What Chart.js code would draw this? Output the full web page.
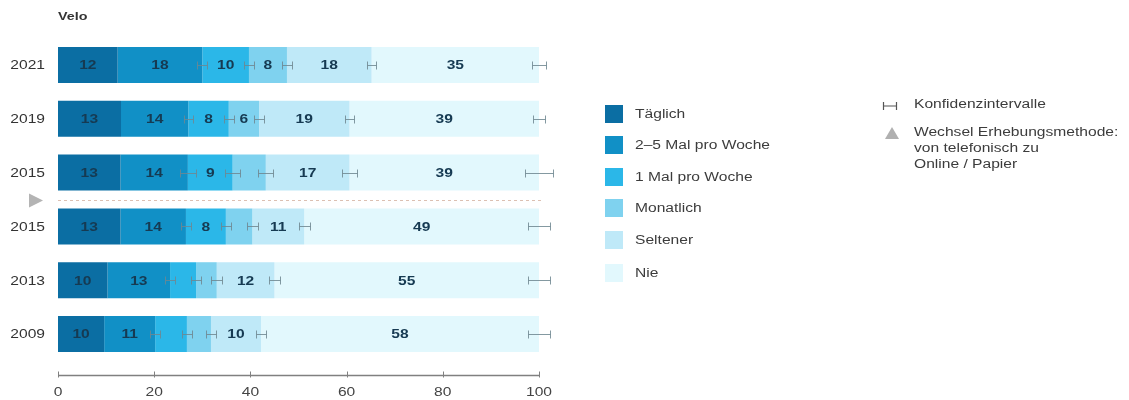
<!DOCTYPE html>
<html>
<head>
<meta charset="utf-8">
<script src="https://cdn.jsdelivr.net/npm/chart.js@4/dist/chart.umd.min.js"></script>
<style>
  html, body { margin: 0; padding: 0; background: #fff; }
  #wrap { position: relative; width: 1129px; height: 400px; overflow: hidden; font-family: "Liberation Sans", Arial, sans-serif; }
  canvas { position: absolute; left: 0; top: 0; }
  .title { position: absolute; left: 58px; top: 10px; font-size: 11px; font-weight: bold; color: #333; transform: scaleX(1.3); transform-origin: 0 0; }
  .leg { position: absolute; font-size: 12px; color: #3c3c3c; line-height: 16px; white-space: nowrap; transform: scaleX(1.3); transform-origin: 0 0; }
  .sw { position: absolute; width: 18px; height: 18px; }
</style>
</head>
<body>
<div id="wrap">
  <canvas id="c" width="1129" height="400"></canvas>
  <div class="title">Velo</div>
  <div id="legend"></div>
</div>
<script>
// ---- data ----
const categories = ['2021', '2019', '2015', '2015', '2013', '2009'];
const seriesNames = ['Täglich', '2–5 Mal pro Woche', '1 Mal pro Woche', 'Monatlich', 'Seltener', 'Nie'];
const taeglich  = [12.4, 13.1, 13.0, 13.0, 10.3, 9.6];
const mal2bis5  = [17.6, 14.0, 14.0, 13.6, 13.0, 10.6];
const mal1      = [9.7, 8.4, 9.3, 8.3, 5.4, 6.6];
const monatlich = [7.9, 6.3, 6.9, 5.5, 4.3, 5.0];
const seltener  = [17.6, 18.8, 17.4, 10.8, 12.0, 10.4];
const nie       = [34.8, 39.4, 39.4, 48.8, 55.0, 57.8];
// printed labels (null = not printed)
const lblTaeglich  = [12, 13, 13, 13, 10, 10];
const lbl2bis5     = [18, 14, 14, 14, 13, 11];
const lbl1         = [10, 8, 9, 8, null, null];
const lblMonatlich = [8, 6, null, null, null, null];
const lblSeltener  = [18, 19, 17, 11, 12, 10];
const lblNie       = [35, 39, 39, 49, 55, 58];
// confidence interval half-widths (percentage points)
const ciInner = [1.0, 1.0, 1.6, 1.1, 1.1, 1.1];
const ciEnd   = [1.4, 1.3, 3.0, 2.3, 2.2, 2.2];
const xTicks = [0, 20, 40, 60, 80, 100];
const methodChangeAfter = 2; // index after which the survey method changed
const legendNotes = ['Konfidenzintervalle', 'Wechsel Erhebungsmethode:', 'von telefonisch zu', 'Online / Papier'];

const colors = ['#0b6ea3', '#1190c6', '#2bb7e8', '#7fd2ef', '#bfe9f8', '#e2f8fd'];
const values = [taeglich, mal2bis5, mal1, monatlich, seltener, nie];
const labels = [lblTaeglich, lbl2bis5, lbl1, lblMonatlich, lblSeltener, lblNie];

const FONT = '"Liberation Sans", Arial, sans-serif';
const SX = 1.3; // horizontal stretch of the text in the reference

function stretchedText(ctx, txt, x, y, align) {
  ctx.save();
  ctx.translate(x, y);
  ctx.scale(SX, 1);
  ctx.textAlign = align;
  ctx.fillText(txt, 0, 0);
  ctx.restore();
}

const overlay = {
  id: 'overlay',
  afterDatasetsDraw(chart) {
    const ctx = chart.ctx;
    const xs = chart.scales.x, ys = chart.scales.y;
    ctx.save();
    ctx.textBaseline = 'middle';
    // category labels
    ctx.font = '12px ' + FONT;
    ctx.fillStyle = '#333';
    categories.forEach((c, i) => stretchedText(ctx, c, 45, ys.getPixelForValue(i) + 1, 'right'));
    // x tick labels
    ctx.fillStyle = '#444';
    xTicks.forEach(t => stretchedText(ctx, String(t), xs.getPixelForValue(t), 393, 'center'));
    // segment labels
    ctx.font = 'bold 12px ' + FONT;
    ctx.fillStyle = '#163a52';
    chart.data.datasets.forEach((ds, di) => {
      const meta = chart.getDatasetMeta(di);
      meta.data.forEach((bar, i) => {
        const l = labels[di][i];
        if (l === null) return;
        stretchedText(ctx, String(l), (bar.x + bar.base) / 2, bar.y + 1, 'center');
      });
    });
    // confidence intervals
    ctx.strokeStyle = 'rgba(110,135,145,0.85)';
    ctx.lineWidth = 1;
    for (let i = 0; i < categories.length; i++) {
      let cum = 0;
      const yc = ys.getPixelForValue(i);
      for (let s = 0; s < values.length; s++) {
        cum += values[s][i];
        if (s === 0) continue;
        const hw = s === values.length - 1 ? ciEnd[i] : ciInner[i];
        const c = s === values.length - 1 ? 100 : cum;
        const x1 = Math.round(xs.getPixelForValue(c - hw)) + 0.5;
        const x2 = Math.round(xs.getPixelForValue(c + hw)) + 0.5;
        const y = Math.round(yc) + 0.5;
        ctx.beginPath();
        ctx.moveTo(x1, y); ctx.lineTo(x2, y);
        ctx.moveTo(x1, y - 4); ctx.lineTo(x1, y + 4);
        ctx.moveTo(x2, y - 4); ctx.lineTo(x2, y + 4);
        ctx.stroke();
      }
    }
    // method change line + triangle
    const yd = Math.round((ys.getPixelForValue(methodChangeAfter) + ys.getPixelForValue(methodChangeAfter + 1)) / 2) + 0.5;
    ctx.strokeStyle = '#dcc0b2';
    ctx.setLineDash([3, 3]);
    ctx.beginPath();
    ctx.moveTo(xs.getPixelForValue(0), yd);
    ctx.lineTo(xs.getPixelForValue(100) + 2, yd);
    ctx.stroke();
    ctx.setLineDash([]);
    ctx.fillStyle = '#b4b4b4';
    ctx.beginPath();
    ctx.moveTo(29, yd - 7);
    ctx.lineTo(43, yd);
    ctx.lineTo(29, yd + 7);
    ctx.closePath();
    ctx.fill();
    // x axis line with ticks
    const ya = 375.5;
    ctx.strokeStyle = '#808080';
    ctx.lineWidth = 1.5;
    ctx.beginPath();
    ctx.moveTo(xs.getPixelForValue(0), ya);
    ctx.lineTo(xs.getPixelForValue(100), ya);
    ctx.stroke();
    ctx.lineWidth = 1;
    xTicks.forEach(t => {
      const x = Math.round(xs.getPixelForValue(t)) + 0.5;
      ctx.beginPath();
      ctx.moveTo(x, ya - 4); ctx.lineTo(x, ya + 2);
      ctx.stroke();
    });
    ctx.restore();
  }
};

new Chart(document.getElementById('c'), {
  type: 'bar',
  data: {
    labels: categories,
    datasets: values.map((v, k) => ({
      label: seriesNames[k],
      data: v,
      backgroundColor: colors[k],
      borderWidth: 0,
      categoryPercentage: 1,
      barPercentage: 0.67
    }))
  },
  options: {
    indexAxis: 'y',
    responsive: false,
    animation: false,
    devicePixelRatio: 1,
    layout: { padding: { top: 38, right: 590, left: 0, bottom: 0 } },
    plugins: { legend: { display: false }, tooltip: { enabled: false } },
    scales: {
      x: {
        stacked: true, min: 0, max: 100,
        afterBuildTicks: (s) => { s.ticks = xTicks.map(v => ({ value: v })); },
        afterFit: (s) => { s.height = 39; },
        ticks: { display: false },
        grid: { display: false, drawTicks: false },
        border: { display: false }
      },
      y: {
        stacked: true,
        afterFit: (s) => { s.width = 58; },
        ticks: { display: false },
        grid: { display: false, drawTicks: false },
        border: { display: false }
      }
    }
  },
  plugins: [overlay]
});

// legend (HTML)
const leg = document.getElementById('legend');
const legY = [114, 145, 177, 208, 240, 273];
seriesNames.forEach((n, k) => {
  const sw = document.createElement('div');
  sw.className = 'sw';
  sw.style.left = '605px';
  sw.style.top = (legY[k] - 9) + 'px';
  sw.style.background = colors[k];
  leg.appendChild(sw);
  const t = document.createElement('div');
  t.className = 'leg';
  t.style.left = '635px';
  t.style.top = (legY[k] - 8) + 'px';
  t.textContent = n;
  leg.appendChild(t);
});
// notes legend
const ciIcon = document.createElement('div');
ciIcon.style.cssText = 'position:absolute;left:882px;top:98px;';
ciIcon.innerHTML = '<svg width="16" height="12"><path d="M1.5 2v8M14.5 2v8M1.5 6h13" stroke="#555" stroke-width="1.2" fill="none"/></svg>';
leg.appendChild(ciIcon);
const triIcon = document.createElement('div');
triIcon.style.cssText = 'position:absolute;left:884px;top:126px;';
triIcon.innerHTML = '<svg width="16" height="14"><path d="M1 13L8 1L15 13Z" fill="#b0b0b0"/></svg>';
leg.appendChild(triIcon);
const notePos = [[914, 96], [914, 124], [914, 140], [914, 156]];
legendNotes.forEach((n, k) => {
  const t = document.createElement('div');
  t.className = 'leg';
  t.style.left = notePos[k][0] + 'px';
  t.style.top = notePos[k][1] + 'px';
  t.textContent = n;
  leg.appendChild(t);
});
</script>
</body>
</html>
